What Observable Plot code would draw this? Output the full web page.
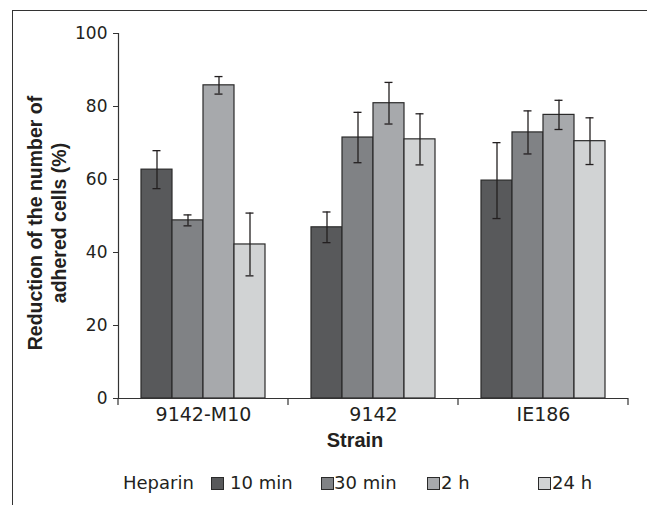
<!DOCTYPE html>
<html>
<head>
<meta charset="utf-8">
<script src="https://cdn.jsdelivr.net/npm/d3@7"></script>
<script src="https://cdn.jsdelivr.net/npm/@observablehq/plot@0.6"></script>
<style>
  html, body { margin: 0; padding: 0; background: #fff; }
  #wrap { position: relative; width: 647px; height: 505px; overflow: hidden; font-family: "DejaVu Sans", sans-serif; color: #231f20; }
  #frame { position: absolute; left: 12px; top: 10px; width: 700px; height: 600px; border-left: 1.3px solid #333; border-top: 1.3px solid #333; }
  #chart { position: absolute; left: 0; top: 0; }
  #ylabel { position: absolute; left: -103px; top: 199px; width: 300px; height: 48px; line-height: 24px; text-align: center;
            font-family: "Liberation Sans", Arial, sans-serif; font-weight: bold; font-size: 19.5px; transform: rotate(-90deg); white-space: nowrap; }
  #xlabel { position: absolute; left: 255px; top: 430px; width: 200px; line-height: 20px; text-align: center;
            font-family: "Liberation Sans", Arial, sans-serif; font-weight: bold; font-size: 20px; }
  .leg { position: absolute; top: 473px; font-size: 18px; line-height: 20px; white-space: nowrap; }
  .sw { position: absolute; top: 477px; width: 10.5px; height: 10.5px; border: 1.2px solid #2a2a2a; }
</style>
</head>
<body>
<div id="wrap">
  <div id="frame"></div>
  <div id="chart"></div>
  <div id="ylabel">Reduction of the number of<br>adhered cells (%)</div>
  <div id="xlabel">Strain</div>
  <div id="legend"></div>
</div>
<script>
// ---- data ----
const strains = ["9142-M10", "9142", "IE186"];
const times = ["10 min", "30 min", "2 h", "24 h"];
const colors = ["#58595b", "#808285", "#a7a9ac", "#d1d3d4"];
const yTicks = [0, 20, 40, 60, 80, 100];
// mean reduction (%) per strain, one array per heparin time
const mean10min = [62.7, 46.9, 59.7];
const mean30min = [48.8, 71.5, 72.9];
const mean2h    = [85.8, 80.9, 77.7];
const mean24h   = [42.2, 71.0, 70.5];
// error (±) per strain
const err10min = [5.2, 4.2, 10.4];
const err30min = [1.5, 6.9, 5.9];
const err2h    = [2.4, 5.7, 4.0];
const err24h   = [8.6, 7.0, 6.4];
const legendTitle = "Heparin";
const yTitle = "Reduction of the number of adhered cells (%)";
const xTitle = "Strain";

const means = [mean10min, mean30min, mean2h, mean24h];
const errs = [err10min, err30min, err2h, err24h];
const rows = strains.flatMap((s, i) => times.map((t, j) => ({
  strain: s, time: t, value: means[j][i], err: errs[j][i]
})));

const ink = "#231f20";
const plot = Plot.plot({
  width: 647,
  height: 440,
  marginLeft: 118,
  marginRight: 19,
  marginTop: 33,
  marginBottom: 42,
  style: { fontFamily: "DejaVu Sans, sans-serif", color: ink, background: "transparent" },
  fx: { domain: strains, padding: 0 },
  x: { domain: times, paddingInner: 0, paddingOuter: 0.72, axis: null },
  y: { domain: [0, 100], axis: null },
  color: { domain: times, range: colors },
  marks: [
    Plot.barY(rows, { fx: "strain", x: "time", y: "value", fill: "time", stroke: "#2a2a2a", strokeWidth: 1.2 }),
    Plot.ruleX(rows, { fx: "strain", x: "time", y1: d => d.value - d.err, y2: d => d.value + d.err, stroke: ink, strokeWidth: 1.3 }),
    Plot.tickY(rows, { fx: "strain", x: "time", y: d => d.value + d.err, stroke: ink, strokeWidth: 1.3, insetLeft: 11.5, insetRight: 11.5 }),
    Plot.tickY(rows, { fx: "strain", x: "time", y: d => d.value - d.err, stroke: ink, strokeWidth: 1.3, insetLeft: 11.5, insetRight: 11.5 }),
    Plot.ruleY([0], { stroke: "#333", strokeWidth: 1.2 }),
    Plot.frame({ anchor: "left", facetAnchor: "left", stroke: "#333", strokeWidth: 1.2 }),
    Plot.axisY({ ticks: yTicks, tickSize: 5, tickPadding: 6, fontSize: 17, label: null, stroke: "#333", fill: ink }),
    Plot.axisFx({ anchor: "bottom", tickSize: 0, tickPadding: 9, fontSize: 19, label: null, fill: ink })
  ]
});
document.getElementById("chart").appendChild(plot);

// category boundary ticks on the x axis, positioned through Plot's fx scale
const fx = plot.scale("fx");
const yScale = plot.scale("y");
const y0 = yScale.apply(0);
const edges = strains.map(s => fx.apply(s)).concat([fx.apply(strains[strains.length - 1]) + fx.bandwidth]);
d3.select(plot).append("g")
  .attr("stroke", "#333").attr("stroke-width", 1.2)
  .selectAll("line").data(edges).join("line")
  .attr("x1", d => d).attr("x2", d => d)
  .attr("y1", y0).attr("y2", y0 + 7);

// legend
const legend = document.getElementById("legend");
const swatchLeft = [211, 321, 427, 538];
const textLeft = [230, 334, 441, 552];
const title = document.createElement("div");
title.className = "leg"; title.style.left = "123px"; title.textContent = legendTitle;
legend.appendChild(title);
times.forEach((t, j) => {
  const sw = document.createElement("div");
  sw.className = "sw"; sw.style.left = swatchLeft[j] + "px"; sw.style.background = colors[j];
  legend.appendChild(sw);
  const tx = document.createElement("div");
  tx.className = "leg"; tx.style.left = textLeft[j] + "px"; tx.textContent = t;
  legend.appendChild(tx);
});
</script>
</body>
</html>
